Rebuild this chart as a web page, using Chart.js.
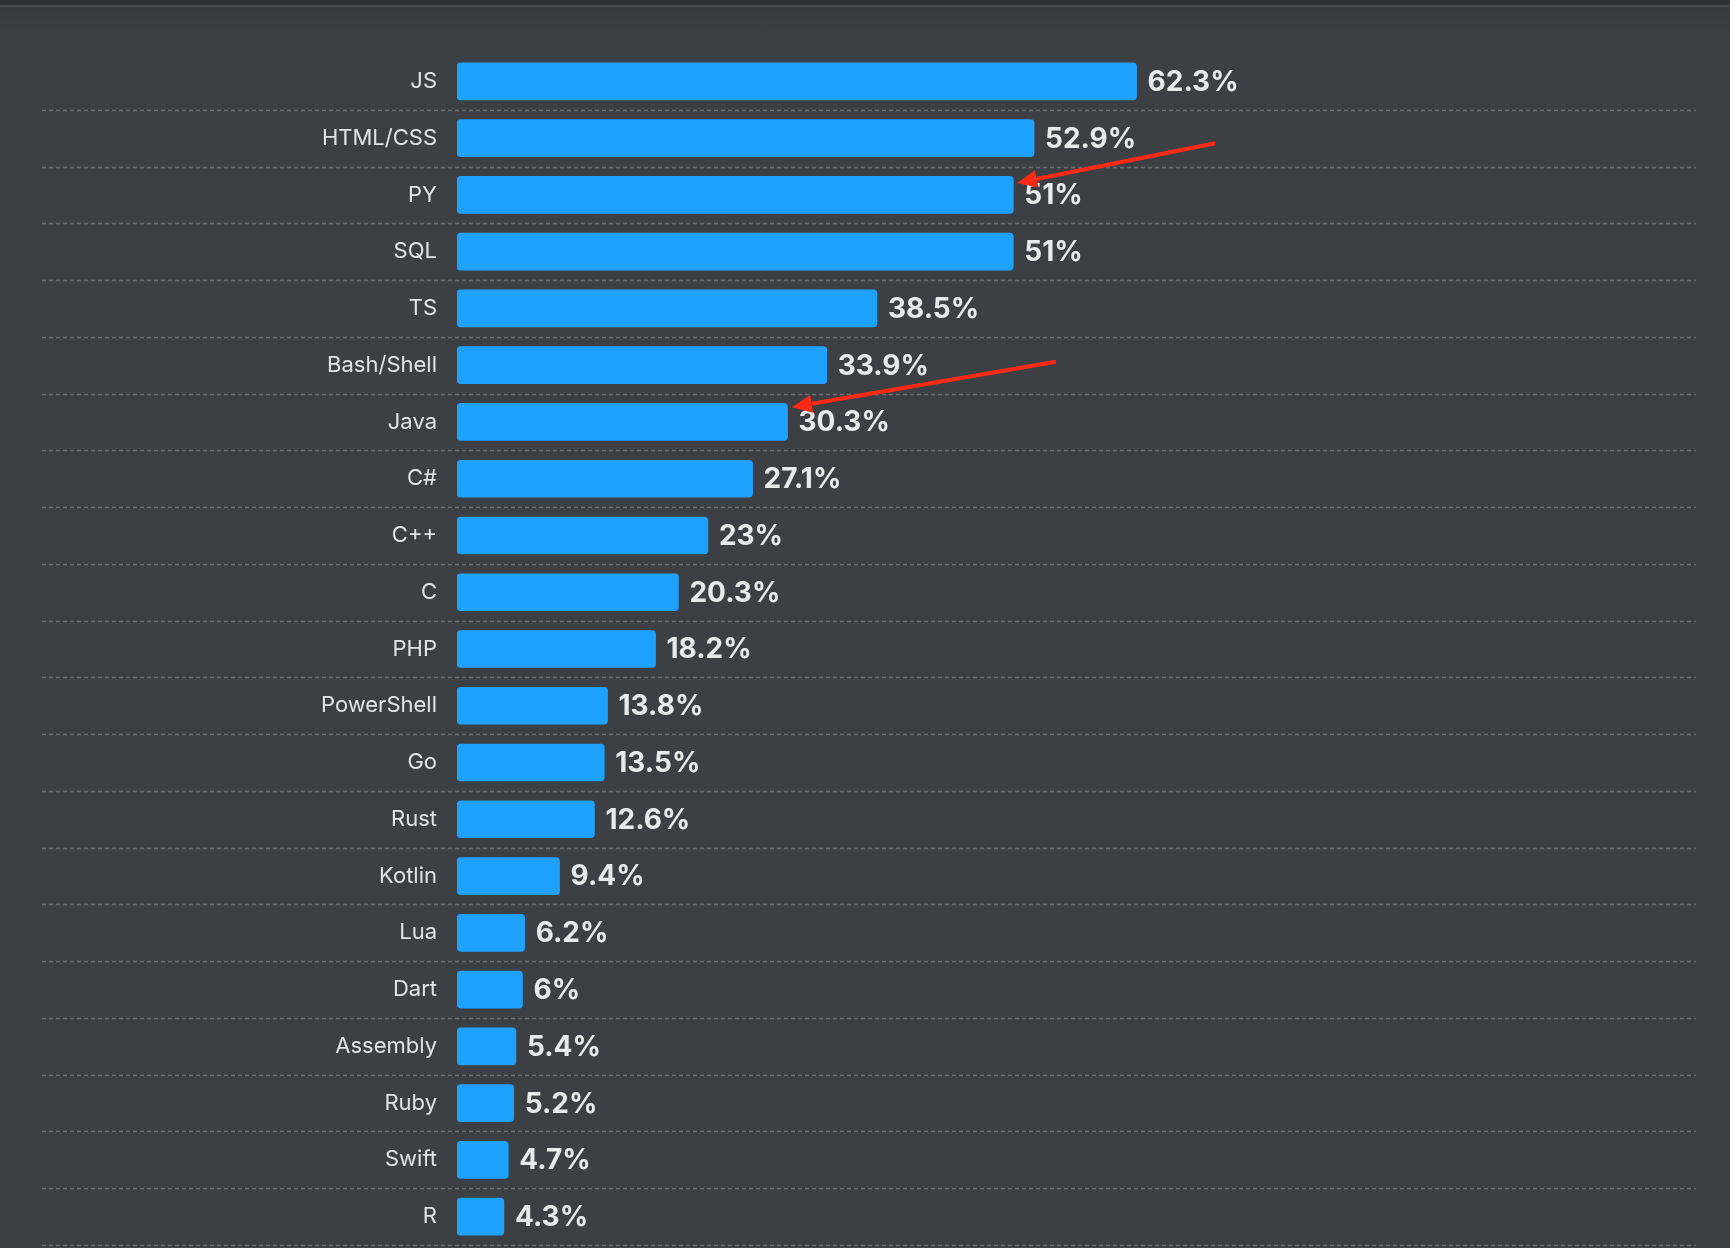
<!DOCTYPE html>
<html>
<head>
<meta charset="utf-8">
<script src="https://cdn.jsdelivr.net/npm/chart.js@4.4.1/dist/chart.umd.min.js"></script>
<style>
  html, body {
    margin: 0;
    padding: 0;
    width: 1730px;
    height: 1248px;
    overflow: hidden;
    background: linear-gradient(#2e3135 0px, #2e3135 5px, #45484d 5px, #45484d 7px, #373a3f 7px, #3c4045 45px, #3c4045 100%);
  }
  #chart { position: absolute; left: 0; top: 0; }
</style>
</head>
<body>
<canvas id="chart" width="1730" height="1248"></canvas>
<script>
const ctx = document.getElementById("chart");

// languages, share of respondents (%)
const languages = ["JS", "HTML/CSS", "PY", "SQL", "TS", "Bash/Shell", "Java", "C#", "C++", "C",
                   "PHP", "PowerShell", "Go", "Rust", "Kotlin", "Lua", "Dart", "Assembly", "Ruby", "Swift", "R"];
const shares =    [62.3, 52.9, 51, 51, 38.5, 33.9, 30.3, 27.1, 23, 20.3,
                   18.2, 13.8, 13.5, 12.6, 9.4, 6.2, 6, 5.4, 5.2, 4.7, 4.3];

// red arrows drawn on top (value axis / row index)
const arrowFromValue = [69.5, 54.9];
const arrowFromRow   = [1.09, 4.94];
const arrowToValue   = [51.35, 30.7];
const arrowToRow     = [1.79, 5.74];

const barColor = "#1fa1ff";
const labelColor = "#e2e3e4";

// dashed separators below each row, running under the labels too
const rowLines = {
  id: "rowLines",
  beforeDatasetsDraw(chart) {
    const y = chart.scales.y;
    const band = y.getPixelForValue(1) - y.getPixelForValue(0);
    const c = chart.ctx;
    c.save();
    c.strokeStyle = "#6b6f74";
    c.lineWidth = 1.5;
    c.setLineDash([4, 3]);
    for (let i = 0; i < languages.length; i++) {
      const py = Math.round(y.getPixelForValue(i) + band / 2) + 0.5;
      c.beginPath();
      c.moveTo(42, py);
      c.lineTo(1696, py);
      c.stroke();
    }
    c.restore();
  }
};

// value text at the end of each bar
const valueLabels = {
  id: "valueLabels",
  afterDatasetsDraw(chart) {
    const c = chart.ctx;
    const meta = chart.getDatasetMeta(0);
    c.save();
    c.font = "bold 28px Inter, 'Noto Sans', sans-serif";
    c.fillStyle = "#e8e9ea";
    c.textAlign = "left";
    c.textBaseline = "middle";
    meta.data.forEach((bar, i) => {
      c.fillText(shares[i] + "%", bar.x + 11, bar.y + 1);
    });
    c.restore();
  }
};

// annotation arrows
const arrows = {
  id: "arrows",
  afterDraw(chart) {
    const x = chart.scales.x;
    const y = chart.scales.y;
    const c = chart.ctx;
    c.save();
    c.strokeStyle = "#ff2a14";
    c.fillStyle = "#ff2a14";
    c.lineWidth = 4;
    c.lineCap = "butt";
    for (let i = 0; i < arrowFromValue.length; i++) {
      const x1 = x.getPixelForValue(arrowFromValue[i]);
      const y1 = y.getPixelForValue(arrowFromRow[i]);
      const x2 = x.getPixelForValue(arrowToValue[i]);
      const y2 = y.getPixelForValue(arrowToRow[i]);
      const ang = Math.atan2(y2 - y1, x2 - x1);
      const headLen = 20, headW = 9;
      const bx = x2 - headLen * Math.cos(ang);
      const by = y2 - headLen * Math.sin(ang);
      c.beginPath();
      c.moveTo(x1, y1);
      c.lineTo(bx, by);
      c.stroke();
      c.beginPath();
      c.moveTo(x2, y2);
      c.lineTo(bx + headW * Math.sin(ang), by - headW * Math.cos(ang));
      c.lineTo(bx - headW * Math.sin(ang), by + headW * Math.cos(ang));
      c.closePath();
      c.fill();
    }
    c.restore();
  }
};

new Chart(ctx, {
  type: "bar",
  data: {
    labels: languages,
    datasets: [
      {
        data: shares,
        backgroundColor: barColor,
        borderRadius: 4,
        borderSkipped: false,
        barThickness: 37,
      },
    ],
  },
  options: {
    indexAxis: "y",
    responsive: false,
    animation: false,
    layout: {
      padding: { top: 53, bottom: 3, left: 0, right: 0 },
    },
    plugins: {
      legend: { display: false },
      tooltip: { enabled: false },
    },
    scales: {
      x: {
        display: false,
        min: 0,
        max: 116.7,
      },
      y: {
        afterFit: (s) => {
          s.width = 457;
          s.paddingTop = 0;
          s.paddingBottom = 0;
        },
        border: { display: false },
        grid: { display: false, drawTicks: false },
        ticks: {
          color: labelColor,
          padding: 20,
          font: { family: "Inter, 'Noto Sans', sans-serif", size: 22 },
        },
      },
    },
  },
  plugins: [rowLines, valueLabels, arrows],
});
</script>
</body>
</html>
